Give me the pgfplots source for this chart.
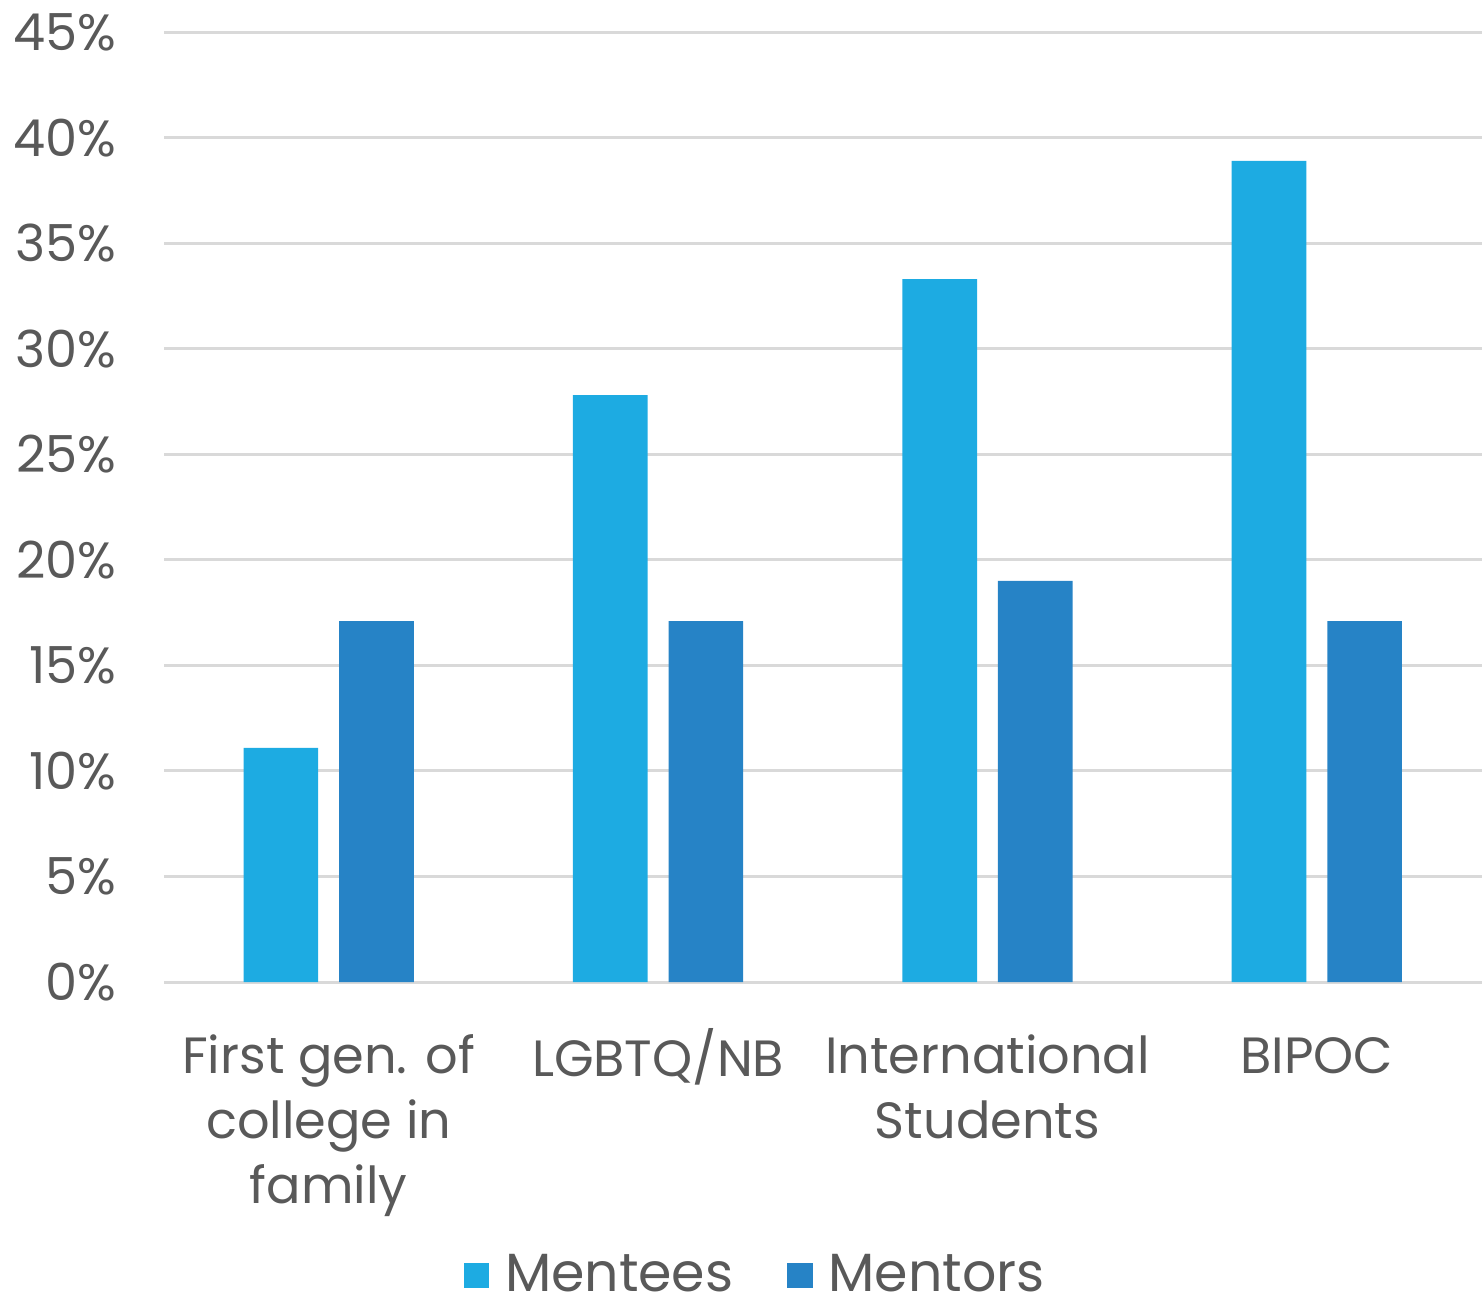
\documentclass[border=0pt]{standalone}
\usepackage{fontspec}
\setmainfont{Poppins}
\usepackage{pgfplots}
\pgfplotsset{compat=1.18}
\definecolor{mentee}{HTML}{1DABE2}
\definecolor{mentor}{HTML}{2683C6}
\definecolor{txt}{HTML}{595959}
\definecolor{gridc}{HTML}{D9D9D9}

\begin{document}
\begin{tikzpicture}
\begin{axis}[
  scale only axis,
  width=330.75pt, height=238.5pt,
  xmin=-0.5, xmax=3.5,
  ymin=0, ymax=45,
  ybar, bar width=18.75pt,
  axis line style={draw=none},
  major tick length=0pt,
  ymajorgrids, grid style={gridc, line width=0.75pt},
  ytick={0,5,...,45},
  yticklabel={\pgfmathprintnumber{\tick}\%},
  /pgf/number format/assume math mode=true,
  yticklabel style={font=\fontsize{12.8}{16}\selectfont, text=txt, xshift=-8.5pt},
  xtick={0,1,2,3},
  xticklabels={{\strut First gen. of\\college in\\family},{\strut LGBTQ/NB},{\strut International\\Students},{\strut BIPOC}},
  xticklabel style={font=\fontsize{12.8}{16.3}\selectfont, text=txt, align=center, yshift=-8pt},
  legend style={draw=none, inner sep=0pt, at={(0.454,-0.309)}, anchor=center,
    font=\fontsize{13.5}{16}\selectfont, text=txt,
    /tikz/every odd column/.append style={column sep=0pt},
    /tikz/every even column/.append style={column sep=9.5pt}},
  legend columns=2,
  legend image code/.code={\fill[#1] (0pt,-3.2pt) rectangle (6.4pt,3.2pt);},
  legend style={nodes={inner xsep=4pt, inner ysep=2pt}},
]
\addplot[fill=mentee, draw=none, bar shift=-12pt] coordinates {(0,11.1) (1,27.8) (2,33.3) (3,38.9)};
\addplot[fill=mentor, draw=none, bar shift=12pt] coordinates {(0,17.1) (1,17.1) (2,19.0) (3,17.1)};
\legend{Mentees, Mentors}
\end{axis}
\end{tikzpicture}
\end{document}
